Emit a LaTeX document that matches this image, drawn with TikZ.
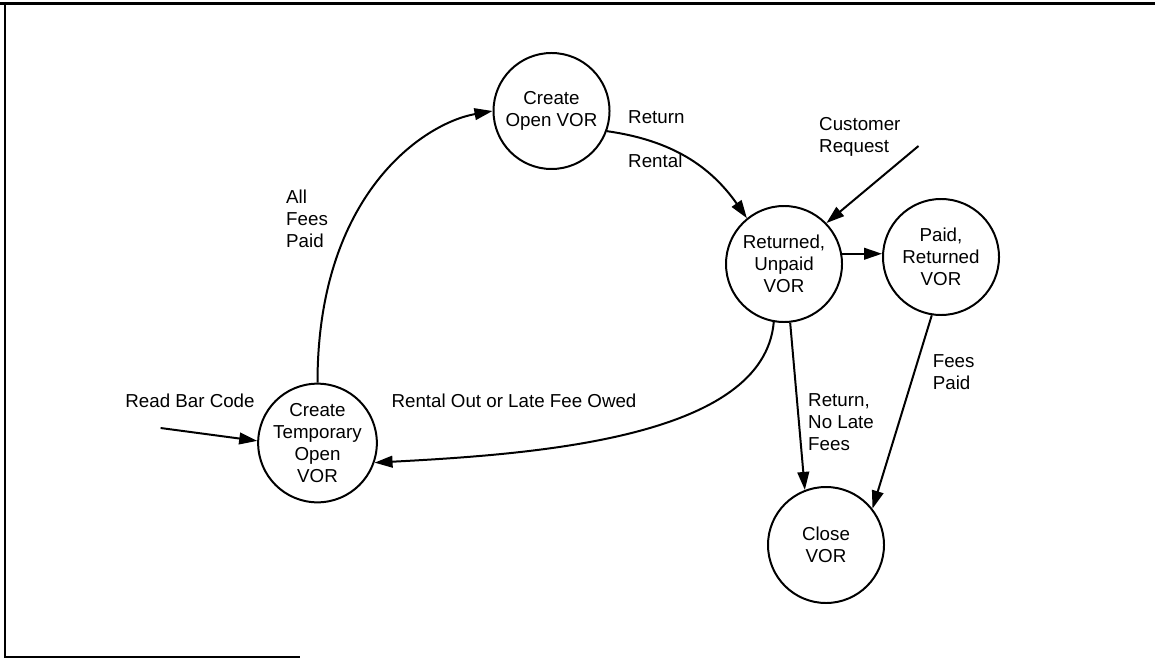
\documentclass[tikz,border=0pt]{standalone}
\usepackage{fontspec}
\setmainfont{Liberation Sans}
\usepackage{tikz}
\usetikzlibrary{arrows.meta}

\begin{document}
\begin{tikzpicture}[x=0.03cm,y=0.03cm,font=\fontsize{16}{18.7}\selectfont,
  vor/.style={draw,circle,line width=1.7pt,minimum size=3.48cm,inner sep=0pt,align=center},
  flow/.style={line width=1.7pt,-{Triangle[length=5.4mm,width=3.5mm]}},
  lbl/.style={inner sep=0pt,anchor=west,align=left}]
  \useasboundingbox (0,0) rectangle (1155,659);
  % frame
  \draw[line width=1.8pt] (0,655.5) -- (1155,655.5);
  \draw[line width=1.5pt] (5,655.5) -- (5,2) -- (300,2);

  % states
  \node[vor] (open) at (551.5,548) {Create\\Open VOR};
  \node[vor] (tmp) at (317.5,216) {Create\\Temporary\\Open\\VOR};
  \node[vor] (ret) at (784,395) {Returned,\\Unpaid\\VOR};
  \node[vor] (paid) at (941,402) {Paid,\\Returned\\VOR};
  \node[vor] (close) at (826,114) {Close\\VOR};

  % labels
  \node[lbl] (lblret) at (628,542) {Return};
  \node[lbl] (lblrent) at (628,498) {Rental};
  \node[lbl] (custreq) at (819,522) {Customer\\Request};
  \node[lbl] (allfees) at (286,440) {All\\Fees\\Paid};
  \node (rbc) at (190,258) {Read Bar Code};
  \node (rentout) at (514,258) {Rental Out or Late Fee Owed};
  \node[lbl] (nolate) at (808,237) {Return,\\No Late\\Fees};
  \node[lbl] (feespaid) at (932.6,287) {Fees\\Paid};

  % free ends
  \coordinate (rbcstart) at (160.6,231);
  \coordinate (custstart) at (918.5,513);

  % transitions
  \draw[flow] (tmp.north) to[out=90,in=190,out looseness=1.5,in looseness=0.55] (open.west);
  \draw[flow] (open.-20) to[out=-8,in=125] (ret.129);
  \draw[flow] (custstart) -- (ret.44);
  \draw[flow] (ret.10) -- (ret.10 -| paid.west);
  \draw[flow] (ret.-100) to[out=-95,in=3,out looseness=0.7] (tmp.-19);
  \draw[flow] (ret.-84) -- (close.111);
  \draw[flow] (paid.-99) -- (close.38);
  \draw[flow] (rbcstart) -- (tmp.178);
\end{tikzpicture}
\end{document}
